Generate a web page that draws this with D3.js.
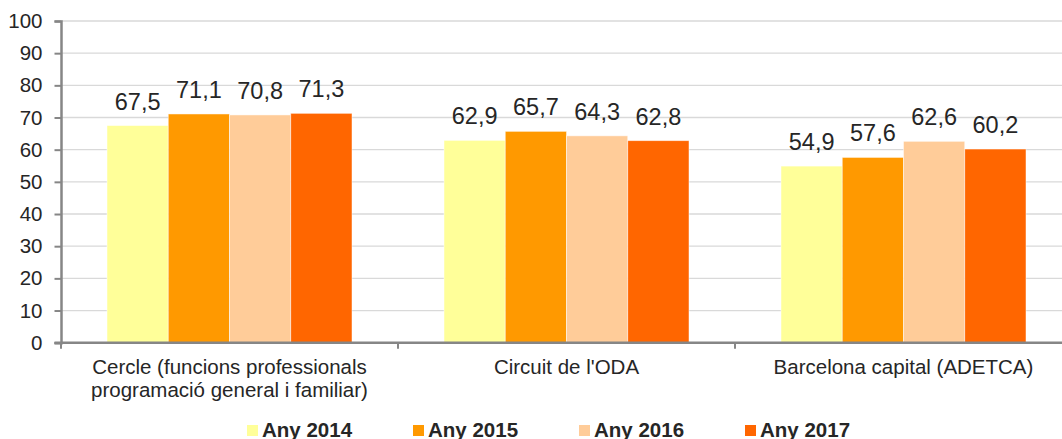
<!DOCTYPE html>
<html>
<head>
<meta charset="utf-8">
<script src="https://cdn.jsdelivr.net/npm/d3@7"></script>
<style>
  body { margin: 0; background: #fff; }
  svg { display: block; font-family: Arial, "Liberation Sans", sans-serif; }
</style>
</head>
<body>
<div id="chart"></div>
<script>
var categories = [
  ['Cercle (funcions professionals', 'programació general i familiar)'],
  ["Circuit de l'ODA"],
  ['Barcelona capital (ADETCA)']
];
var seriesNames = ['Any 2014', 'Any 2015', 'Any 2016', 'Any 2017'];
var any2014 = [67.5, 62.9, 54.9];
var any2015 = [71.1, 65.7, 57.6];
var any2016 = [70.8, 64.3, 62.6];
var any2017 = [71.3, 62.8, 60.2];
var yTicks = [0, 10, 20, 30, 40, 50, 60, 70, 80, 90, 100];
var colors = ['#ffff99', '#ff9900', '#ffcc99', '#ff6600'];

var W = 1062, H = 439;
var x0 = 61, x1 = 1072, yTop = 21, yBot = 342.7;

var series = [any2014, any2015, any2016, any2017];

var svg = d3.select('#chart').append('svg')
  .attr('width', W).attr('height', H);

var x = d3.scaleBand().domain(d3.range(categories.length)).range([x0, x1]);
var xs = d3.scaleBand().domain(d3.range(series.length))
  .range([46, x.bandwidth() - 46]);
var y = d3.scaleLinear().domain([0, 100]).range([yBot, yTop]);

// grid
svg.append('g').selectAll('line')
  .data(yTicks.filter(function(d) { return d > 0; }))
  .enter().append('line')
  .attr('x1', x0).attr('x2', x1)
  .attr('y1', function(d) { return y(d); })
  .attr('y2', function(d) { return y(d); })
  .attr('stroke', '#d9d9d9').attr('stroke-width', 1.3);

// bars
var groups = svg.append('g').selectAll('g')
  .data(categories)
  .enter().append('g')
  .attr('transform', function(d, i) { return 'translate(' + x(i) + ',0)'; });

groups.selectAll('rect')
  .data(function(d, i) { return series.map(function(s, j) { return {j: j, v: s[i]}; }); })
  .enter().append('rect')
  .attr('x', function(d) { return xs(d.j); })
  .attr('width', xs.bandwidth())
  .attr('y', function(d) { return y(d.v); })
  .attr('height', function(d) { return yBot - y(d.v); })
  .attr('fill', function(d) { return colors[d.j]; })
  .attr('stroke', 'rgba(255,255,255,0.6)').attr('stroke-width', 0.8);

groups.selectAll('text.val')
  .data(function(d, i) { return series.map(function(s, j) { return {j: j, v: s[i]}; }); })
  .enter().append('text')
  .attr('class', 'val')
  .attr('x', function(d) { return xs(d.j) + xs.bandwidth() / 2; })
  .attr('y', function(d) { return y(d.v) - 16; })
  .attr('text-anchor', 'middle')
  .attr('font-size', '23.5px')
  .attr('fill', '#262626')
  .text(function(d) { return d.v.toFixed(1).replace('.', ','); });

// y axis
var yAxis = d3.axisLeft(y).tickValues(yTicks).tickSize(6.5).tickPadding(12);
var gy = svg.append('g').attr('transform', 'translate(' + x0 + ',0)').call(yAxis);
gy.select('.domain').attr('stroke', '#868686').attr('stroke-width', 2.5);
gy.selectAll('.tick line').attr('stroke', '#868686').attr('stroke-width', 2);
gy.selectAll('.tick text').attr('font-size', '20.5px').attr('fill', '#262626')
  .attr('font-family', 'Arial, "Liberation Sans", sans-serif');

// x axis
svg.append('line')
  .attr('x1', x0 - 6.5).attr('x2', x1)
  .attr('y1', yBot).attr('y2', yBot)
  .attr('stroke', '#868686').attr('stroke-width', 2.5);
svg.append('g').selectAll('line')
  .data(d3.range(categories.length + 1))
  .enter().append('line')
  .attr('x1', function(i) { return x0 + i * x.bandwidth(); })
  .attr('x2', function(i) { return x0 + i * x.bandwidth(); })
  .attr('y1', yBot).attr('y2', yBot + 6)
  .attr('stroke', '#868686').attr('stroke-width', 2);

svg.append('g').selectAll('text')
  .data(categories)
  .enter().append('text')
  .attr('x', function(d, i) { return x(i) + x.bandwidth() / 2; })
  .attr('y', 374)
  .attr('text-anchor', 'middle')
  .attr('font-size', '20.5px')
  .attr('fill', '#262626')
  .each(function(d) {
    var t = d3.select(this);
    d.forEach(function(line, k) {
      t.append('tspan')
        .attr('x', t.attr('x'))
        .attr('dy', k === 0 ? 0 : 23)
        .text(line);
    });
  });

// legend
var leg = svg.append('g').selectAll('g')
  .data(seriesNames)
  .enter().append('g')
  .attr('transform', function(d, i) { return 'translate(' + (247 + i * 166) + ',425)'; });
leg.append('rect')
  .attr('width', 11).attr('height', 11)
  .attr('fill', function(d, i) { return colors[i]; });
leg.append('text')
  .attr('x', 15).attr('y', 11.5)
  .attr('font-size', '20.5px').attr('font-weight', 'bold')
  .attr('fill', '#262626')
  .text(function(d) { return d; });
</script>
</body>
</html>
